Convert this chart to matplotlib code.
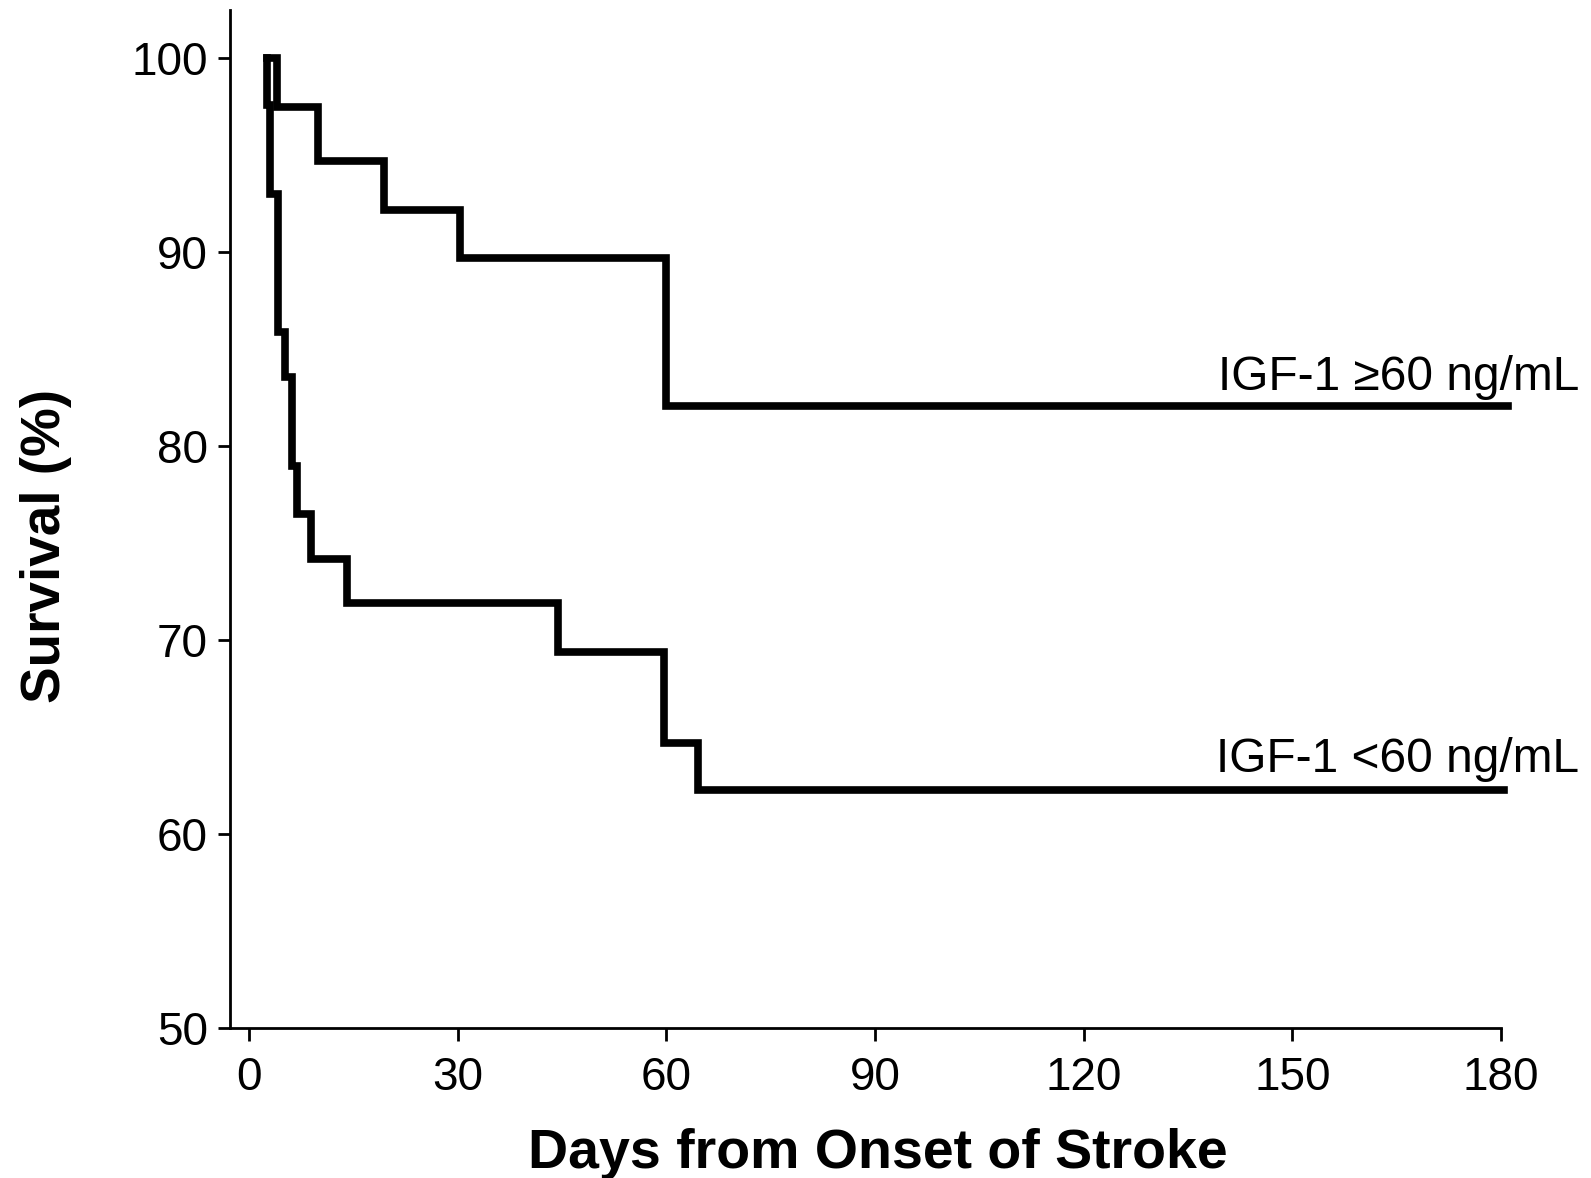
import matplotlib
matplotlib.use("Agg")
import matplotlib.pyplot as plt

# Kaplan-Meier steps (day, survival %)
high_days = [2.6, 4.0, 10.0, 19.4, 30.4, 60.0, 181.0]
high_surv = [100, 97.5, 94.7, 92.2, 89.7, 82.1, 82.1]

low_days = [2.6, 2.6, 3.0, 4.2, 5.2, 6.2, 6.9, 8.9, 14.1, 44.5, 59.7, 64.6, 180.4]
low_surv = [100, 97.6, 93.0, 85.9, 83.6, 79.0, 76.5, 74.2, 71.9, 69.4, 64.7, 62.3, 62.3]

high_label = "IGF-1 \u226560 ng/mL"
low_label = "IGF-1 <60 ng/mL"

x_ticks = [0, 30, 60, 90, 120, 150, 180]
y_ticks = [50, 60, 70, 80, 90, 100]

plt.rcParams["font.family"] = ["Liberation Sans", "DejaVu Sans"]

fig = plt.figure(figsize=(15.91, 11.78), dpi=100)
ax = fig.add_axes([0.1446, 0.1273, 0.9434 - 0.1446, 0.9915 - 0.1273])

ax.plot(high_days, high_surv, drawstyle="steps-post", color="black", lw=5.5,
        solid_joinstyle="miter", clip_on=False)
ax.plot(low_days, low_surv, drawstyle="steps-post", color="black", lw=5.5,
        solid_joinstyle="miter", clip_on=False)

ax.text(191.3, 82.9, high_label, ha="right", va="baseline", fontsize=34.5)
ax.text(191.3, 63.2, low_label, ha="right", va="baseline", fontsize=34.5)

ax.set_xlim(-2.7, 180)
ax.set_ylim(50, 102.5)
ax.set_xticks(x_ticks)
ax.set_yticks(y_ticks)

for s in ["top", "right"]:
    ax.spines[s].set_visible(False)
for s in ["left", "bottom"]:
    ax.spines[s].set_linewidth(2)

ax.tick_params(direction="out", length=9, width=2, labelsize=33)
ax.tick_params(axis="x", pad=11)
ax.tick_params(axis="y", pad=7)

ax.set_xlabel("Days from Onset of Stroke", fontsize=40, fontweight="bold", labelpad=20)
ax.set_ylabel("Survival (%)", fontsize=39.5, fontweight="bold", labelpad=43)
ax.xaxis.label.set_x(0.51)
ax.yaxis.label.set_y(0.474)

fig.savefig("out.png", dpi=100)
